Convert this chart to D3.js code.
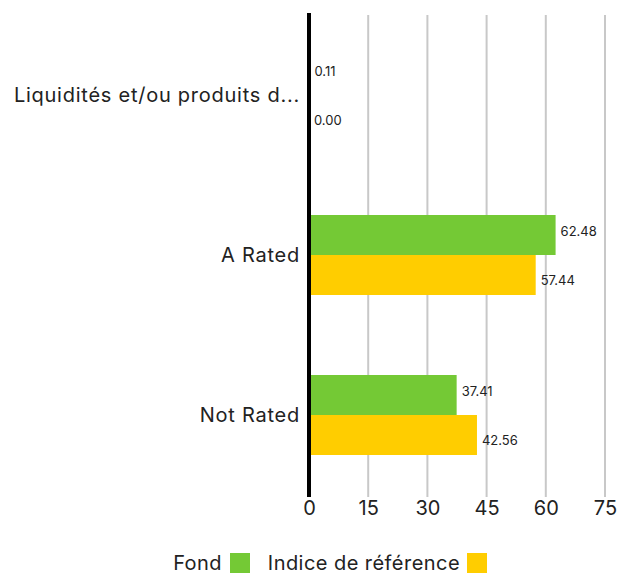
<!DOCTYPE html>
<html>
<head>
<meta charset="utf-8">
<script src="https://cdn.jsdelivr.net/npm/d3@7"></script>
<style>
  body { margin: 0; background: #fff; }
  svg { font-family: Inter, "Open Sans", sans-serif; }
</style>
</head>
<body>
<svg id="chart" width="632" height="574"></svg>
<script>
const categories = ['Liquidités et/ou produits d...', 'A Rated', 'Not Rated'];
const fondValues = [0.11, 62.48, 37.41];
const indiceValues = [0.00, 57.44, 42.56];
const seriesNames = ['Fond', 'Indice de référence'];
const xTicks = [0, 15, 30, 45, 60, 75];

const COLORS = ['#74c935', '#ffcd00'];

const svg = d3.select('#chart');
const x = d3.scaleLinear().domain([0, 75]).range([309, 605]);
const y = d3.scaleBand().domain(categories).range([15, 495])
  .paddingInner(0.5).paddingOuter(0.25);
const sub = d3.scaleBand().domain(seriesNames).range([0, y.bandwidth()]);

// gridlines
svg.append('g').selectAll('line').data(xTicks.slice(1)).enter().append('line')
  .attr('x1', d => x(d)).attr('x2', d => x(d))
  .attr('y1', 15).attr('y2', 497)
  .attr('stroke', '#c8c8c8').attr('stroke-width', 2);

const rows = categories.map((c, i) => [
  { cat: c, s: seriesNames[0], v: fondValues[i], dy: -4 },
  { cat: c, s: seriesNames[1], v: indiceValues[i], dy: 5 }
]).flat();

svg.append('g').selectAll('rect').data(rows).enter().append('rect')
  .attr('x', x(0))
  .attr('y', d => y(d.cat) + sub(d.s))
  .attr('width', d => x(d.v) - x(0))
  .attr('height', sub.bandwidth())
  .attr('fill', d => COLORS[seriesNames.indexOf(d.s)]);

svg.append('g').selectAll('text').data(rows).enter().append('text')
  .attr('x', d => x(d.v) + 5)
  .attr('y', d => y(d.cat) + sub(d.s) + sub.bandwidth() / 2 + d.dy)
  .attr('dy', '0.35em')
  .attr('font-size', 13).attr('fill', '#222')
  .text(d => d.v.toFixed(2));

// zero line
svg.append('line')
  .attr('x1', x(0)).attr('x2', x(0)).attr('y1', 13).attr('y2', 497)
  .attr('stroke', '#000').attr('stroke-width', 4);

// category labels
svg.append('g').selectAll('text').data(categories).enter().append('text')
  .attr('x', 300)
  .attr('y', d => y(d) + y.bandwidth() / 2)
  .attr('dy', '0.35em')
  .attr('text-anchor', 'end')
  .attr('font-size', 20).attr('letter-spacing', 0.75).attr('fill', '#222')
  .text(d => d);

// x axis
const xAxis = svg.append('g').attr('transform', 'translate(0,497)')
  .call(d3.axisBottom(x).tickValues(xTicks).tickSize(0).tickPadding(4));
xAxis.select('.domain').remove();
xAxis.selectAll('text').attr('font-size', 20).attr('fill', '#222')
  .attr('font-family', 'Inter, sans-serif');

// legend
const legend = svg.append('g');
const legendItems = [
  { name: seriesNames[0], tx: 222, sx: 230 },
  { name: seriesNames[1], tx: 460, sx: 467 }
];
legend.selectAll('text').data(legendItems).enter().append('text')
  .attr('x', d => d.tx).attr('y', 570)
  .attr('text-anchor', 'end')
  .attr('font-size', 20).attr('letter-spacing', 0.45).attr('fill', '#222')
  .text(d => d.name);
legend.selectAll('rect').data(legendItems).enter().append('rect')
  .attr('x', d => d.sx).attr('y', 553)
  .attr('width', 20).attr('height', 20)
  .attr('fill', (d, i) => COLORS[i]);
</script>
</body>
</html>
